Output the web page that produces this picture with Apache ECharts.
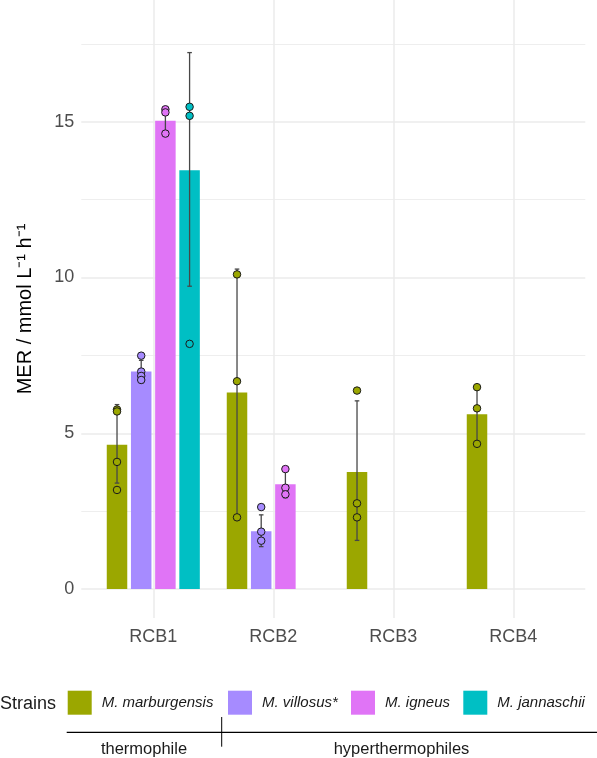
<!DOCTYPE html>
<html><head><meta charset="utf-8">
<script src="https://cdn.jsdelivr.net/npm/echarts@6/dist/echarts.min.js"></script>
<style>html,body{margin:0;padding:0;background:#fff}#c{width:597px;height:758px}</style>
</head><body><div id="c"></div>
<script>
// ---------------- data ----------------
const categories = ['RCB1', 'RCB2', 'RCB3', 'RCB4'];
const strains = ['M. marburgensis', 'M. villosus*', 'M. igneus', 'M. jannaschii'];
const yTicks = [0, 5, 10, 15];

const meanMarburgensis = [4.63, 6.31, 3.76, 5.61];
const meanVillosus     = [6.98, 1.85, null, null];
const meanIgneus       = [15.03, 3.36, null, null];
const meanJannaschii   = [13.44, null, null, null];

const lowMarburgensis  = [3.40, 2.35, 1.56, 4.72];
const highMarburgensis = [5.92, 10.27, 6.04, 6.50];
const lowVillosus      = [6.62, 1.36, null, null];
const highVillosus     = [7.34, 2.38, null, null];
const lowIgneus        = [14.61, 2.93, null, null];
const highIgneus       = [15.46, 3.83, null, null];
const lowJannaschii    = [9.72, null, null, null];
const highJannaschii   = [17.22, null, null, null];

const ptsMarburgensis = [[0, 5.76], [0, 5.70], [0, 4.08], [0, 3.18],
                         [1, 10.10], [1, 6.67], [1, 2.30],
                         [2, 6.37], [2, 2.75], [2, 2.30],
                         [3, 6.48], [3, 5.80], [3, 4.66]];
const ptsVillosus     = [[0, 7.49], [0, 6.98], [0, 6.84], [0, 6.71],
                         [1, 2.63], [1, 1.84], [1, 1.55]];
const ptsIgneus       = [[0, 15.40], [0, 15.30], [0, 14.62],
                         [1, 3.85], [1, 3.25], [1, 3.04]];
const ptsJannaschii   = [[0, 15.48], [0, 15.19], [0, 7.87]];

const groupLabels = ['thermophile', 'hyperthermophiles'];
const yTitle = 'MER / mmol L\u207B\u00B9 h\u207B\u00B9';

// ---------------- layout / style ----------------
const FONT = "'Liberation Sans', Arial, Helvetica, sans-serif";
const colors = ['#9BA700', '#A68BFF', '#E074F6', '#00BFC4'];
const Y0 = 589, PX_PER_UNIT = 31.15;
const Y_MAX = Y0 / PX_PER_UNIT;
const BAR_W = 20.5, BAR_GAP = 0.18;
const PITCH = BAR_W * (1 + BAR_GAP);
const slotOffset = i => (i - 1.5) * PITCH;
const legendLeft = [67.7, 228, 351, 463.3];

const means = [meanMarburgensis, meanVillosus, meanIgneus, meanJannaschii];
const lows = [lowMarburgensis, lowVillosus, lowIgneus, lowJannaschii];
const highs = [highMarburgensis, highVillosus, highIgneus, highJannaschii];
const pts = [ptsMarburgensis, ptsVillosus, ptsIgneus, ptsJannaschii];

const gridCol = '#EBEBEB';
const series = [];
strains.forEach((s, i) => {
  series.push({
    name: s, type: 'bar', xAxisIndex: 2, yAxisIndex: 2,
    data: means[i], barWidth: BAR_W, barGap: (BAR_GAP * 100) + '%',
    itemStyle: { color: colors[i] }, z: 2, silent: true
  });
});
strains.forEach((s, i) => {
  const ebData = [];
  lows[i].forEach((lo, k) => { if (lo != null) ebData.push([k, lo, highs[i][k]]); });
  series.push({
    type: 'custom', xAxisIndex: 2, yAxisIndex: 2, z: 3, silent: true, clip: false,
    data: ebData, encode: { x: 0, y: [1, 2] },
    renderItem: (params, api) => {
      const lo = api.coord([api.value(0), api.value(1)]);
      const hi = api.coord([api.value(0), api.value(2)]);
      const x = lo[0] + slotOffset(i);
      const st = { stroke: '#474747', lineWidth: 1.3 };
      const cap = 2.3;
      return { type: 'group', children: [
        { type: 'line', shape: { x1: x, y1: lo[1], x2: x, y2: hi[1] }, style: st },
        { type: 'line', shape: { x1: x - cap, y1: lo[1], x2: x + cap, y2: lo[1] }, style: st },
        { type: 'line', shape: { x1: x - cap, y1: hi[1], x2: x + cap, y2: hi[1] }, style: st }
      ]};
    }
  });
});
strains.forEach((s, i) => {
  series.push({
    type: 'scatter', xAxisIndex: 2, yAxisIndex: 2, z: 4, silent: true,
    data: pts[i], symbol: 'circle', symbolSize: 7.5,
    symbolOffset: [slotOffset(i), 0],
    itemStyle: { color: colors[i], borderColor: '#1A1A1A', borderWidth: 1, opacity: 1 }
  });
});

const option = {
  animation: false,
  backgroundColor: '#fff',
  textStyle: { fontFamily: FONT },
  title: { text: 'Strains', left: 0, top: 695, padding: 0,
    textStyle: { fontSize: 18, fontWeight: 'normal', color: '#1A1A1A', fontFamily: FONT } },
  legend: strains.map((s, i) => ({
    data: [s], left: legendLeft[i], top: 690.7, padding: 0, itemGap: 0,
    itemWidth: 24, itemHeight: 24, icon: 'rect', selectedMode: false,
    textStyle: { fontStyle: 'italic', fontSize: 15, color: '#1A1A1A', fontFamily: FONT, padding: [0, 0, 0, 5] }
  })),
  grid: [
    { left: 33.3, right: 11.7, top: 0, bottom: 140 },
    { left: 81.3, right: 11.7, top: 0, bottom: 758 - Y0 },
    { left: 93.3, right: 23.7, top: 0, bottom: 758 - Y0 }
  ],
  xAxis: [
    { gridIndex: 0, type: 'value', min: 0, max: 4.6, interval: 1,
      axisLine: { show: false }, axisTick: { show: false }, axisLabel: { show: false },
      splitLine: { show: true, showMinLine: false, showMaxLine: false, lineStyle: { color: gridCol, width: 1.5 } } },
    { gridIndex: 1, type: 'value', show: false },
    { gridIndex: 2, type: 'category', data: categories,
      axisLine: { show: false }, axisTick: { show: false }, splitLine: { show: false },
      axisLabel: { fontSize: 18, color: '#4D4D4D', margin: 39, fontFamily: FONT } }
  ],
  yAxis: [
    { gridIndex: 0, type: 'value', min: 0, max: 1,
      axisLine: { show: false }, axisTick: { show: false }, axisLabel: { show: false },
      splitLine: { show: false },
      name: yTitle, nameLocation: 'middle', nameGap: -2.5,
      nameTextStyle: { fontSize: 20, color: '#000', fontFamily: FONT } },
    { gridIndex: 1, type: 'value', min: yTicks[0], max: Y_MAX, interval: yTicks[1] - yTicks[0],
      axisLine: { show: false }, axisTick: { show: false },
      axisLabel: { fontSize: 18, color: '#4D4D4D', margin: 7, showMaxLabel: false, fontFamily: FONT },
      splitLine: { show: true, showMaxLine: false, lineStyle: { color: gridCol, width: 1.5 } },
      minorTick: { show: false, splitNumber: 2 },
      minorSplitLine: { show: true, lineStyle: { color: '#EEEEEE', width: 1 } } },
    { gridIndex: 2, type: 'value', show: false, min: 0, max: Y_MAX }
  ],
  graphic: [
    { type: 'line', shape: { x1: 66.7, y1: 732.3, x2: 597, y2: 732.3 }, style: { stroke: '#000', lineWidth: 1.3 } },
    { type: 'line', shape: { x1: 221.7, y1: 717, x2: 221.7, y2: 746.7 }, style: { stroke: '#000', lineWidth: 1 } },
    { type: 'text', x: 144, y: 749, style: { text: groupLabels[0], fill: '#1A1A1A', font: '16.5px ' + FONT, align: 'center', verticalAlign: 'middle' } },
    { type: 'text', x: 401.5, y: 749, style: { text: groupLabels[1], fill: '#1A1A1A', font: '16.5px ' + FONT, align: 'center', verticalAlign: 'middle' } }
  ],
  series: series
};
const chart = echarts.init(document.getElementById('c'));
chart.setOption(option);
</script>
</body></html>
